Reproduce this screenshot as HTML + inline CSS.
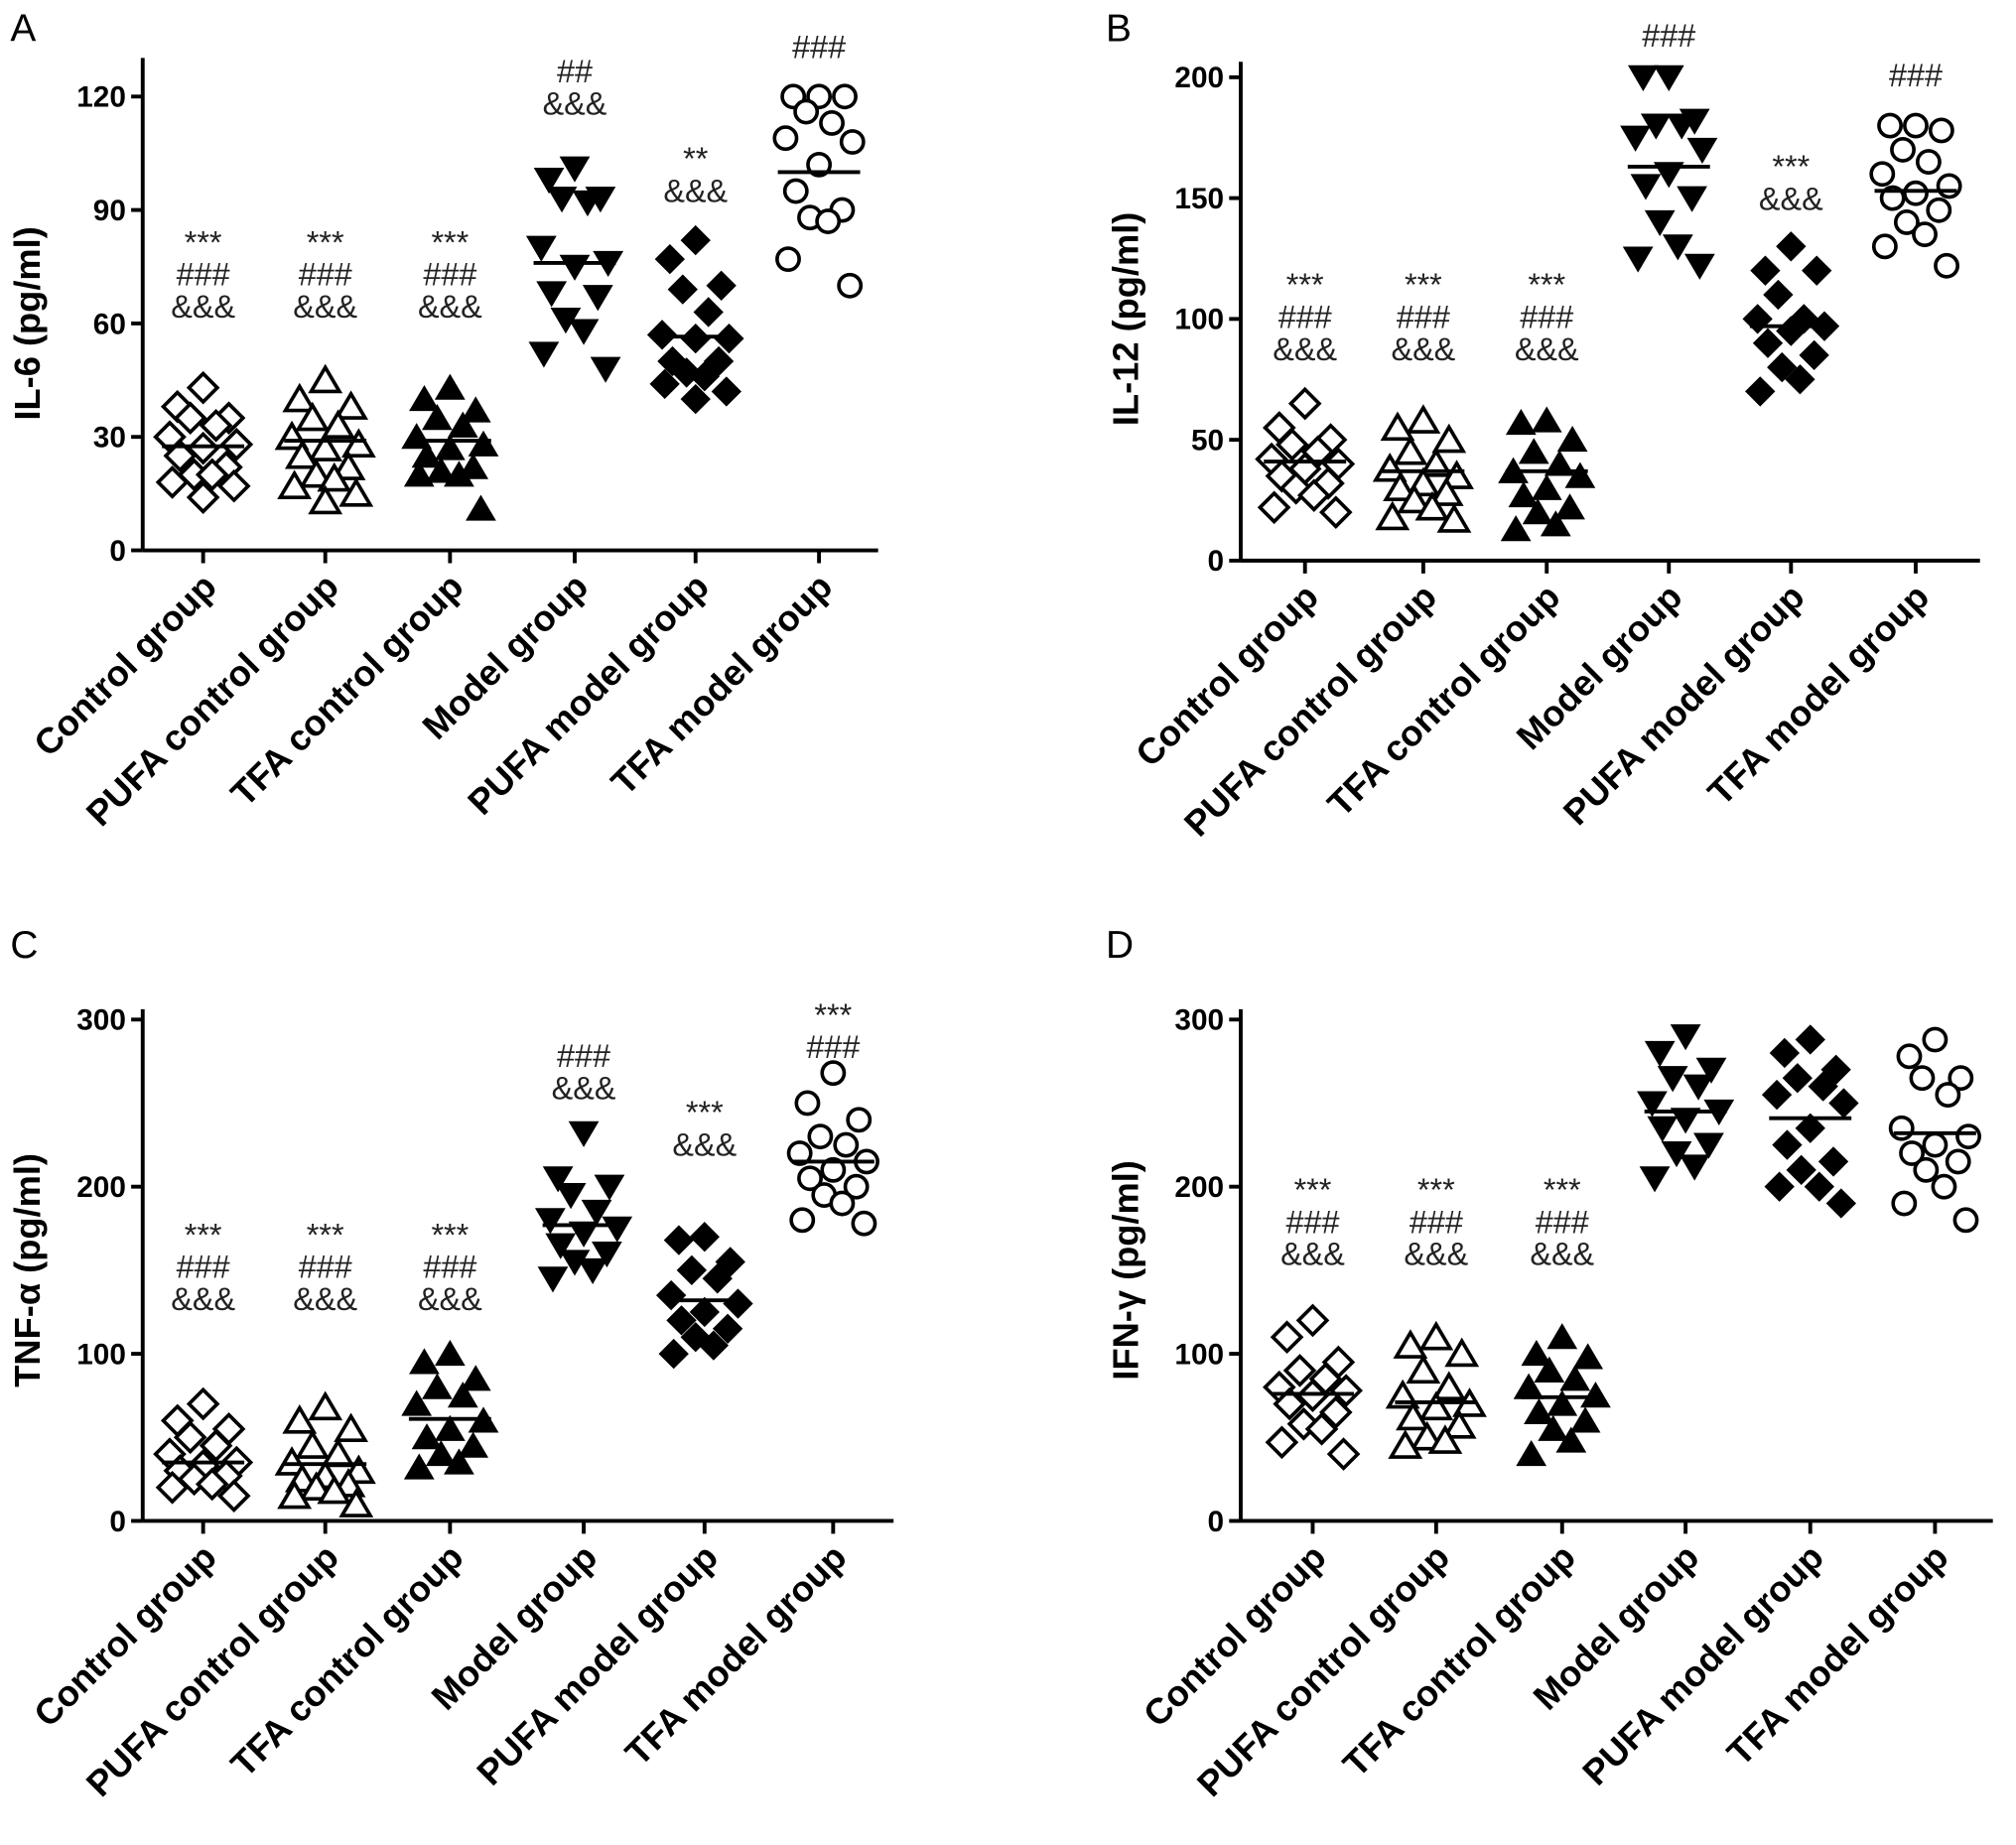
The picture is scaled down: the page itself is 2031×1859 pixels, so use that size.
<!DOCTYPE html>
<html><head><meta charset="utf-8"><style>
html,body{margin:0;padding:0;background:#fff}
svg{display:block}
text{font-family:"Liberation Sans",Arial,sans-serif}
</style></head><body>
<svg id="fig" width="2031" height="1859" viewBox="0 0 1568 1435" xmlns="http://www.w3.org/2000/svg"></svg>
<script>
const categories=["Control group","PUFA control group","TFA control group","Model group","PUFA model group","TFA model group"];
const markerTypes=["diamond-open","triangle-open","triangle-filled","triangle-down","diamond-filled","circle-open"];

const il6Values=[
[43,38,35,35,33,30,28,27,25,22,20,20,18,17,14],
[45,40,38,35,33,30,28,27,25,22,20,19,17,15,13],
[43,40,37,35,33,30,28,27,25,22,21,20,20,11],
[101,98,93,93,92,80,76,75,68,67,61,58,52,48],
[82,77,70,69,63,57,56,56,50,50,47,46,44,42,40],
[120,120,120,116,113,109,108,102,95,90,88,87,77,70]];
const il6Means=[27.5,29,29,76,56.5,100];
const il12Values=[
[65,55,50,48,45,42,40,38,35,32,30,27,22,20],
[58,55,50,45,40,38,35,32,30,28,25,22,18,17],
[58,57,50,45,40,37,35,30,27,22,20,15,13],
[200,200,182,180,180,175,170,160,155,150,140,130,125,122],
[130,120,120,110,100,100,97,95,90,85,80,75,70],
[180,180,178,170,165,160,155,152,150,145,140,135,130,122]];
const il12Means=[41,37,37,163,97,153];
const tnfValues=[
[70,60,55,50,45,40,35,33,30,27,25,22,20,15],
[68,60,55,45,40,35,30,27,25,22,20,18,15,10],
[100,95,85,80,75,70,60,55,50,45,40,35,32],
[232,205,200,195,185,180,175,172,165,160,155,150,145],
[170,168,155,150,145,135,130,125,120,115,110,105,100],
[268,250,240,230,225,220,215,210,205,200,195,190,180,178]];
const tnfMeans=[35,34,61,177,132,215];
const ifnValues=[
[120,110,95,90,85,80,78,75,70,65,58,55,47,40],
[110,105,100,90,80,75,70,68,62,57,50,48,45],
[110,100,98,90,85,80,75,70,65,60,55,48,40],
[290,280,270,265,260,250,245,240,235,225,220,212,205],
[288,280,270,265,260,255,250,235,225,215,210,200,200,190],
[288,278,265,265,255,235,230,225,220,215,210,200,190,180]];
const ifnMeans=[76,71,74,245,241,232];

const il6Ticks=[0,30,60,90,120];
const il12Ticks=[0,50,100,150,200];
const tnfTicks=[0,100,200,300];
const ifnTicks=[0,100,200,300];

const il6Notes=[["***","###","&&&"],["***","###","&&&"],["***","###","&&&"],["##","&&&"],["**","&&&"],["###"]];
const il12Notes=[["***","###","&&&"],["***","###","&&&"],["***","###","&&&"],["###"],["***","&&&"],["###"]];
const tnfNotes=[["***","###","&&&"],["***","###","&&&"],["***","###","&&&"],["###","&&&"],["***","&&&"],["***","###"]];
const ifnNotes=[["***","###","&&&"],["***","###","&&&"],["***","###","&&&"],[],[],[]];
const il6NoteTop=[185,185,185,52,120,33];
const il12NoteTop=[218,218,218,24,126,55];
const tnfNoteTop=[957,957,957,818,862,786];
const ifnNoteTop=[922,922,922,0,0,0];

const NS="http://www.w3.org/2000/svg";
const svg=document.getElementById('fig');
function mk(tag,attrs,parent){const e=document.createElementNS(NS,tag);for(const k in attrs)e.setAttribute(k,attrs[k]);(parent||svg).appendChild(e);return e;}

const jit=[0,-20,20,-10,10,-26,26,0,-18,18,-7,7,-24,24,0];

function marker(g,type,cx,cy){
  const s=11;let e;
  const open=type.indexOf('open')>=0;
  const st={fill:open?'#fff':'#000',stroke:'#000','stroke-width':open?2.8:1};
  if(type.startsWith('diamond')) e=mk('polygon',Object.assign({points:`${cx},${cy-s} ${cx+s},${cy} ${cx},${cy+s} ${cx-s},${cy}`},st),g);
  else if(type==='triangle-down') e=mk('polygon',Object.assign({points:`${cx-s},${cy-s*0.8} ${cx+s},${cy-s*0.8} ${cx},${cy+s*0.9}`},st),g);
  else if(type.startsWith('triangle')) e=mk('polygon',Object.assign({points:`${cx-s},${cy+s*0.8} ${cx+s},${cy+s*0.8} ${cx},${cy-s*0.9}`},st),g);
  else e=mk('circle',Object.assign({cx:cx,cy:cy,r:s*0.78},st),g);
  
  
}

function panel(cfg){
  const g=mk('g',{});
  
  
  const y=v=>cfg.y0-(v-0)/(cfg.vmax)*(cfg.y0-cfg.yTop);
  const lt=mk('text',{x:cfg.letterX,y:cfg.letterY,'font-size':30},g);lt.textContent=cfg.letter;
  
  const ya=mk('line',{x1:cfg.ax,y1:cfg.axTop,x2:cfg.ax,y2:cfg.y0,stroke:'#000','stroke-width':3},g);
  
  const xa=mk('line',{x1:cfg.ax,y1:cfg.y0,x2:cfg.axEnd,y2:cfg.y0,stroke:'#000','stroke-width':3},g);
  
  cfg.ticks.forEach(t=>{
    mk('line',{x1:cfg.ax-9,y1:y(t),x2:cfg.ax,y2:y(t),stroke:'#000','stroke-width':3},g);
    const tx=mk('text',{x:cfg.ax-13,y:y(t)+8,'font-size':23,'font-weight':'bold','text-anchor':'end'},g);
    tx.textContent=t;
    
  });
  const yt=mk('text',{x:0,y:0,'font-size':28,'font-weight':'bold','text-anchor':'middle',transform:`translate(${cfg.ax-80},${(cfg.y0+cfg.yTop)/2}) rotate(-90)`},g);
  yt.textContent=cfg.title;
  categories.forEach((c,i)=>{
    const x=cfg.gx[i];
    mk('line',{x1:x,y1:cfg.y0,x2:x,y2:cfg.y0+10,stroke:'#000','stroke-width':3},g);
    const cl=mk('text',{x:0,y:0,'font-size':28,'font-weight':'bold','text-anchor':'end',transform:`translate(${x+12},${cfg.y0+30}) rotate(-45)`},g);
    cl.textContent=c;
    const vals=cfg.values[i];
    vals.forEach((v,j)=>marker(g,markerTypes[i],x+jit[j%jit.length],y(v)));
    const ml=mk('line',{x1:x-32,x2:x+32,y1:y(cfg.means[i]),y2:y(cfg.means[i]),stroke:'#000','stroke-width':3},g);
    
    cfg.notes[i].forEach((n,k)=>{
      const nt=mk('text',{x:x,y:cfg.noteTop[i]+12+k*25,'font-size':25,'text-anchor':'middle',fill:'#222'},g);
      nt.textContent=n;
    });
  });
}

panel({name:'panel-a-il6',letter:'A',letterX:8,letterY:32,ax:111,axTop:45,axEnd:683,y0:428,yTop:75,vmax:120,ticks:il6Ticks,title:'IL-6 (pg/ml)',gx:[158,253,350,447,541,637],values:il6Values,means:il6Means,notes:il6Notes,noteTop:il6NoteTop});
panel({name:'panel-b-il12',letter:'B',letterX:860,letterY:32,ax:965,axTop:48,axEnd:1540,y0:436,yTop:60,vmax:200,ticks:il12Ticks,title:'IL-12 (pg/ml)',gx:[1015,1107,1203,1298,1393,1490],values:il12Values,means:il12Means,notes:il12Notes,noteTop:il12NoteTop});
panel({name:'panel-c-tnf',letter:'C',letterX:8,letterY:745,ax:111,axTop:785,axEnd:695,y0:1183,yTop:793,vmax:300,ticks:tnfTicks,title:'TNF-α (pg/ml)',gx:[158,253,350,454,548,648],values:tnfValues,means:tnfMeans,notes:tnfNotes,noteTop:tnfNoteTop});
panel({name:'panel-d-ifn',letter:'D',letterX:860,letterY:745,ax:965,axTop:785,axEnd:1550,y0:1183,yTop:793,vmax:300,ticks:ifnTicks,title:'IFN-γ (pg/ml)',gx:[1021,1117,1215,1311,1408,1505],values:ifnValues,means:ifnMeans,notes:ifnNotes,noteTop:ifnNoteTop});
</script>
</body></html>
